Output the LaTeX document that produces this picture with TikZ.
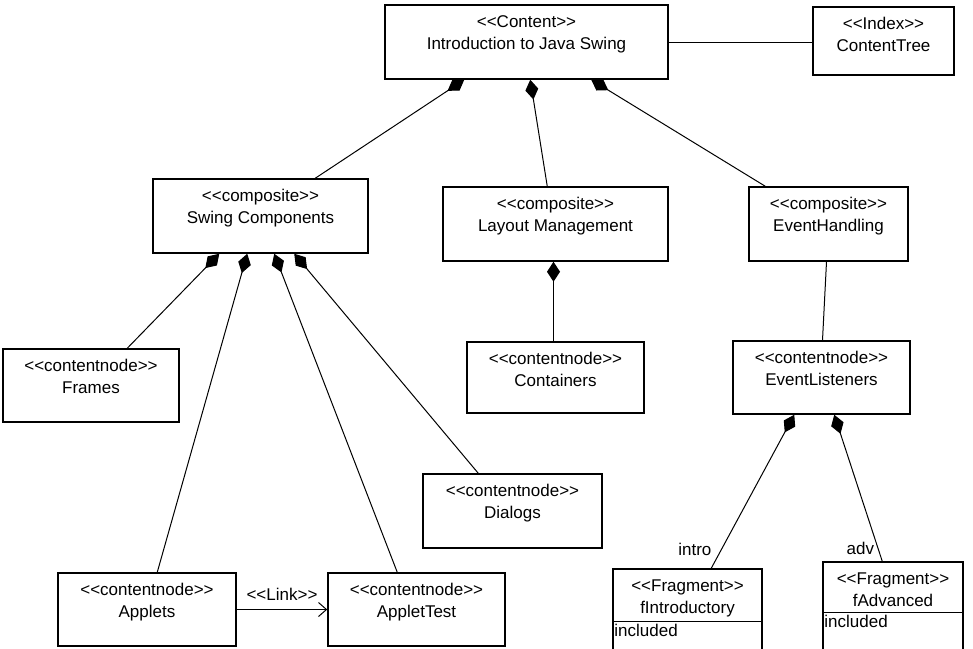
\documentclass[tikz,border=0pt]{standalone}
\usepackage{fontspec}
\setmainfont{Liberation Sans}
\usetikzlibrary{arrows.meta,positioning}
\newcommand{\stereo}[1]{<\kern0pt<#1>\kern0pt>}

\begin{document}
\begin{tikzpicture}[
  x=1pt, y=-1pt,
  box/.style={draw, line width=1.5pt, inner sep=0pt},
  txt/.style={anchor=north, align=center, inner sep=0pt, yshift=-11pt,
    font=\fontsize{17}{22}\selectfont},
  lbl/.style={font=\fontsize{17}{22}\selectfont},
  comp/.style={{Diamond[length=20pt,width=13pt]}-, line width=1pt},
  assoc/.style={line width=1pt},
  lnk/.style={-{Straight Barb[length=8pt,width=14pt]}, line width=1pt}
]
  \useasboundingbox (0,0) rectangle (973,648);
  \clip (0,0) rectangle (973,648);

  % top level
  \node[box, minimum width=283pt, minimum height=74pt,
    label={[txt]north:{\stereo{Content}\\Introduction to Java Swing}}]
    (content) at (526.5,42) {};
  \node[box, minimum width=141pt, minimum height=68pt,
    label={[txt]north:{\stereo{Index}\\ContentTree}}]
    (index) at (883.5,41) {};

  % composites
  \node[box, minimum width=215pt, minimum height=74pt,
    label={[txt]north:{\stereo{composite}\\Swing Components}}]
    (swing) at (260.5,216) {};
  \node[box, minimum width=225pt, minimum height=74pt,
    label={[txt]north:{\stereo{composite}\\Layout Management}}]
    (layout) at (555.5,224) {};
  \node[box, minimum width=159pt, minimum height=74pt,
    label={[txt]north:{\stereo{composite}\\EventHandling}}]
    (events) at (828.5,224) {};

  % content nodes
  \node[box, minimum width=176pt, minimum height=73pt,
    label={[txt]north:{\stereo{contentnode}\\Frames}}]
    (frames) at (91,385.5) {};
  \node[box, minimum width=177pt, minimum height=71pt,
    label={[txt]north:{\stereo{contentnode}\\Containers}}]
    (containers) at (555.5,377.5) {};
  \node[box, minimum width=177pt, minimum height=73pt,
    label={[txt]north:{\stereo{contentnode}\\EventListeners}}]
    (listeners) at (821.5,377.5) {};
  \node[box, minimum width=179pt, minimum height=74pt,
    label={[txt]north:{\stereo{contentnode}\\Dialogs}}]
    (dialogs) at (512.5,511) {};
  \node[box, minimum width=178pt, minimum height=73pt,
    label={[txt]north:{\stereo{contentnode}\\Applets}}]
    (applets) at (147,609.5) {};
  \node[box, minimum width=177pt, minimum height=73pt,
    label={[txt]north:{\stereo{contentnode}\\AppletTest}}]
    (applettest) at (416.5,609.5) {};

  % fragments
  \node[box, minimum width=149pt, minimum height=100pt,
    label={[txt]north:{\stereo{Fragment}\\fIntroductory}},
    label={[lbl, anchor=north west, inner sep=2pt, yshift=-54pt]north west:included}]
    (fintro) at (687.5,619) {};
  \node[box, minimum width=140pt, minimum height=100pt,
    label={[txt]north:{\stereo{Fragment}\\fAdvanced}},
    label={[lbl, anchor=north west, inner sep=2pt, yshift=-52pt]north west:included}]
    (fadv) at (893,612) {};
  \draw[line width=1.5pt] ([yshift=-53pt]fintro.north west) -- ([yshift=-53pt]fintro.north east);
  \draw[line width=1.5pt] ([yshift=-51pt]fadv.north west) -- ([yshift=-51pt]fadv.north east);

  % connectors
  \draw[assoc] (content.east) -- (content.east -| index.west);
  \draw[comp] ([xshift=80pt]content.south west) -- ([xshift=163pt]swing.north west);
  \draw[comp] ([xshift=146pt]content.south west) -- ([xshift=105pt]layout.north west);
  \draw[comp] ([xshift=207pt]content.south west) -- ([xshift=17pt]events.north west);

  \draw[comp] ([xshift=67pt]swing.south west) -- ([xshift=125pt]frames.north west);
  \draw[comp] ([xshift=95pt]swing.south west) -- ([xshift=100pt]applets.north west);
  \draw[comp] ([xshift=122pt]swing.south west) -- ([xshift=70pt]applettest.north west);
  \draw[comp] ([xshift=142pt]swing.south west) -- ([xshift=56pt]dialogs.north west);

  \draw[comp] ([xshift=-2pt]layout.south) -- ([xshift=-2pt]containers.north);
  \draw[assoc] ([xshift=-2pt]events.south) -- ([xshift=1pt]listeners.north);

  \draw[comp] ([xshift=62pt]listeners.south west) --
    node[lbl, pos=0.88, left=6pt] {intro} ([xshift=99pt]fintro.north west);
  \draw[comp] ([xshift=102pt]listeners.south west) --
    node[lbl, pos=0.91, left] {adv} ([xshift=60pt]fadv.north west);

  \draw[lnk] (applets.east) -- node[lbl, above=5pt] {\stereo{Link}} (applettest.west);
\end{tikzpicture}
\end{document}
